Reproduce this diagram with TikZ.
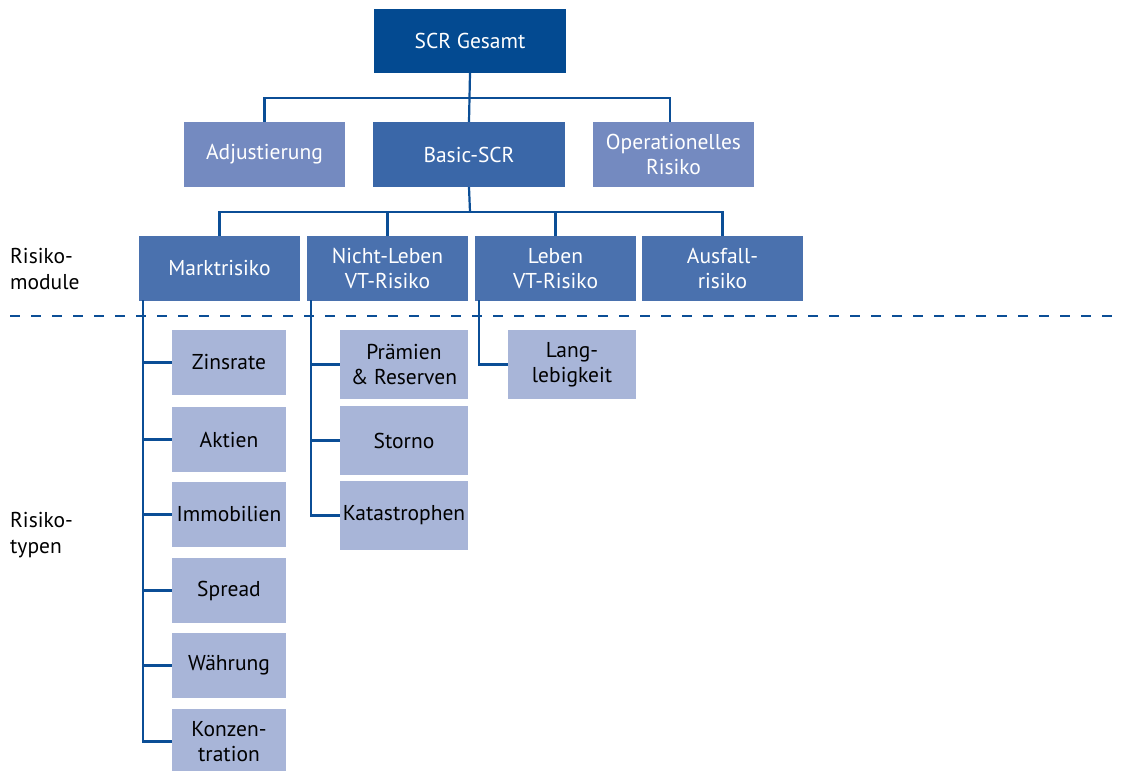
\documentclass[tikz,border=0pt]{standalone}
\usepackage{fontspec}
\setmainfont{PT Sans}
\definecolor{cTop}{RGB}{3,74,145}
\definecolor{cBasic}{RGB}{58,103,168}
\definecolor{cSide}{RGB}{116,138,192}
\definecolor{cMod}{RGB}{74,113,174}
\definecolor{cTyp}{RGB}{168,181,216}
\definecolor{cLine}{RGB}{11,78,150}
\begin{document}
\begin{tikzpicture}[x=1pt,y=-1pt,
  box/.style={rectangle, inner sep=0pt, align=center, font=\fontsize{21.5}{25}\selectfont},
  topbox/.style={box, fill=cTop, text=white, minimum width=192pt, minimum height=64pt},
  basicbox/.style={box, fill=cBasic, text=white, minimum width=192pt, minimum height=65pt},
  sidebox/.style={box, fill=cSide, text=white, minimum width=161pt, minimum height=65pt},
  modbox/.style={box, fill=cMod, text=white, minimum width=161pt, minimum height=65pt},
  typbox/.style={box, fill=cTyp, text=black, minimum width=114pt, minimum height=65pt},
  typboxw/.style={box, fill=cTyp, text=black, minimum width=128pt, minimum height=69pt},
  conn/.style={draw=cLine, line width=2.2pt},
  sidelabel/.style={anchor=west, align=left, inner sep=0pt, font=\fontsize{21.5}{26}\selectfont}
]
\useasboundingbox (0,0) rectangle (1122,771);
\coordinate (bus1) at (470,98);
\coordinate (bus2) at (470,212);
\coordinate (mv) at (143,300);
\coordinate (nv) at (311,300);
\coordinate (lv) at (479,300);

\node[topbox] (top) at (470,41) {SCR Gesamt};
\node[sidebox] (adj) at (264.5,154.5) {Adjustierung};
\node[basicbox] (basic) at (469,154.5) {Basic-SCR};
\node[sidebox] (oper) at (673.5,154.5) {Operationelles\\Risiko};

\node[modbox] (markt) at (219.5,268.5) {Marktrisiko};
\node[modbox] (nl) at (387.5,268.5) {Nicht-Leben\\VT-Risiko};
\node[modbox] (leben) at (555.5,268.5) {Leben\\VT-Risiko};
\node[modbox] (ausf) at (722.5,268.5) {Ausfall-\\risiko};

\node[typbox] (zins) at (229,362.5) {Zinsrate};
\node[typbox] (akt) at (229,439.5) {Aktien};
\node[typbox] (immo) at (229,514.5) {Immobilien};
\node[typbox] (spread) at (229,590.5) {Spread};
\node[typbox] (wahr) at (229,665.5) {Währung};
\node[typbox] (konz) at (229,741.5) {Konzen-\\tration};

\node[typboxw] (praem) at (404,364.5) {Prämien\\\& Reserven};
\node[typboxw] (storno) at (404,440.5) {Storno};
\node[typboxw] (kat) at (404,515.5) {Katastrophen};

\node[typboxw] (lang) at (572,364.5) {Lang-\\lebigkeit};

\node[sidelabel] (lmod) at (10,269) {Risiko-\\module};
\node[sidelabel] (ltyp) at (10,535) {Risiko-\\typen};

% level 1
\draw[conn] (top.south) -- (basic.north);
\draw[conn] (adj.north) |- (bus1) -| ([xshift=-3.5pt]oper.north);
% level 2
\draw[conn] (basic.south) -- (bus2);
\draw[conn] (markt.north) |- (bus2) -| (ausf.north);
\draw[conn] (nl.north) -- (nl.north |- bus2);
\draw[conn] (leben.north) -- (leben.north |- bus2);
% level 3 Marktrisiko
\draw[conn] (mv) |- (konz.west);
\foreach \n in {zins,akt,immo,spread,wahr}
  \draw[conn] (\n.west) -- (\n.west -| mv);
% Nicht-Leben
\draw[conn] (nv) |- (kat.west);
\foreach \n in {praem,storno}
  \draw[conn] (\n.west) -- (\n.west -| nv);
% Leben
\draw[conn] (lv) |- (lang.west);

% dashed separator
\coordinate (dl) at (10,316);
\coordinate (dr) at (1122,316);
\draw[draw=cLine, line width=2.6pt, dash pattern=on 10pt off 11pt] (dl) -- (dr);
\end{tikzpicture}
\end{document}
